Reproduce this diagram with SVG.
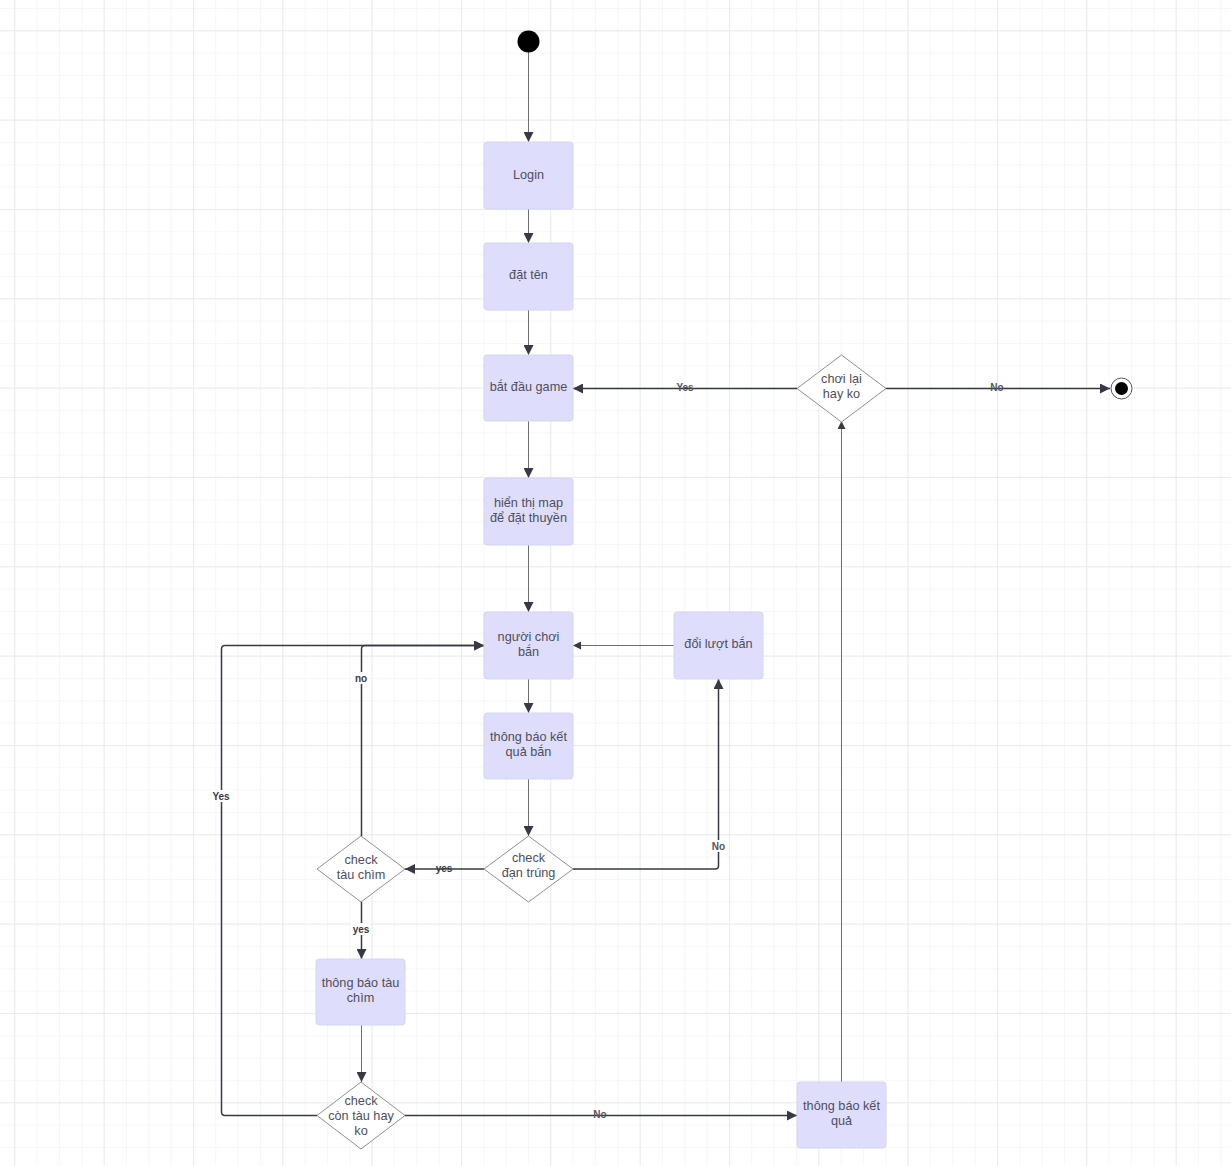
<svg xmlns="http://www.w3.org/2000/svg" width="1231" height="1166" viewBox="0 0 1231 1166">
  <style>
    .box { fill: #dedefc; stroke: #d4d4f4; stroke-width: 1; }
    .dia { fill: #ffffff; stroke: #8f8f8f; stroke-width: 1; }
    .txt { font-family: "Liberation Sans", Arial, sans-serif; font-size: 12.7px; fill: #4e4e5e; text-anchor: middle; }
    .lbl { font-family: "Liberation Sans", Arial, sans-serif; font-size: 10px; font-weight: bold; fill: #3a3a44; text-anchor: middle; }
    .lblg { font-family: "Liberation Sans", Arial, sans-serif; font-size: 10px; font-weight: bold; fill: #55555e; text-anchor: middle; }
    .thin { fill: none; stroke: #6e6e74; stroke-width: 1; }
    .bold { fill: none; stroke: #353a45; stroke-width: 1.5; }
  </style>
  <defs>
    <pattern id="minor" width="22.333" height="22.333" patternUnits="userSpaceOnUse" x="14.3" y="30.3">
      <path d="M 0 0 H 22.333 M 0 0 V 22.333" fill="none" stroke="#efefef" stroke-width="1"/>
    </pattern>
    <pattern id="major" width="89.333" height="89.333" patternUnits="userSpaceOnUse" x="14.3" y="30.3">
      <path d="M 0 0 H 89.333 M 0 0 V 89.333" fill="none" stroke="#dedede" stroke-width="1"/>
    </pattern>
    <marker id="arr" viewBox="0 0 10 10" refX="10" refY="5" markerWidth="10" markerHeight="10" markerUnits="userSpaceOnUse" orient="auto">
      <path d="M 0 0 L 10 5 L 0 10 Z" fill="#353a45"/>
    </marker>
    <marker id="arrs" viewBox="0 0 10 10" refX="10" refY="5" markerWidth="8" markerHeight="8" markerUnits="userSpaceOnUse" orient="auto">
      <path d="M 0 0 L 10 5 L 0 10 Z" fill="#353a45"/>
    </marker>
  </defs>

  <!-- background grid -->
  <rect width="1231" height="1166" fill="#ffffff"/>
  <rect width="1231" height="1166" fill="url(#minor)"/>
  <rect width="1231" height="1166" fill="url(#major)"/>

  <!-- connectors -->
  <g id="connectors">
    <path class="thin" d="M 528.5 52 V 142" marker-end="url(#arr)"/>
    <path class="thin" d="M 528.5 209 V 243" marker-end="url(#arr)"/>
    <path class="thin" d="M 528.5 310 V 355" marker-end="url(#arr)"/>
    <path class="thin" d="M 528.5 421 V 478" marker-end="url(#arr)"/>
    <path class="thin" d="M 528.5 545 V 612" marker-end="url(#arr)"/>
    <path class="thin" d="M 528.5 679 V 713" marker-end="url(#arr)"/>
    <path class="thin" d="M 528.5 779 V 836" marker-end="url(#arr)"/>
    <path class="thin" d="M 361.5 1025 V 1082" marker-end="url(#arr)"/>
    <path class="thin" d="M 841.5 1082 V 421" marker-end="url(#arrs)"/>
    <path class="thin" d="M 674 645.5 H 573" marker-end="url(#arrs)"/>

    <!-- check đạn trúng: yes -->
    <path class="bold" d="M 484 869 H 405" marker-end="url(#arr)"/>
    <text class="lbl" x="444" y="872">yes</text>
    <!-- check đạn trúng: No -->
    <path class="bold" d="M 573 869 H 715 Q 718.5 869 718.5 866 V 679" marker-end="url(#arr)"/>
    <rect x="710" y="840" width="17" height="12" fill="#ffffff"/>
    <text class="lblg" x="718.5" y="850">No</text>
    <!-- check tàu chìm: no -->
    <path class="bold" d="M 361.5 836 V 649 Q 361.5 645.5 365 645.5 H 484" marker-end="url(#arr)"/>
    <rect x="352" y="672" width="18" height="12" fill="#ffffff"/>
    <text class="lbl" x="361" y="682">no</text>
    <!-- check tàu chìm: yes -->
    <path class="bold" d="M 361.5 902 V 959" marker-end="url(#arr)"/>
    <rect x="351" y="923" width="20" height="12" fill="#ffffff"/>
    <text class="lbl" x="361" y="933">yes</text>
    <!-- check còn tàu: Yes -->
    <path class="bold" d="M 317 1115.5 H 225 Q 221.5 1115.5 221.5 1112 V 649 Q 221.5 645.5 225 645.5 H 484" marker-end="url(#arr)"/>
    <rect x="211" y="790" width="21" height="12" fill="#ffffff"/>
    <text class="lbl" x="221" y="800">Yes</text>
    <!-- check còn tàu: No -->
    <path class="bold" d="M 405 1115.5 H 797" marker-end="url(#arr)"/>
    <text class="lblg" x="600" y="1118">No</text>
    <!-- chơi lại: Yes -->
    <path class="bold" d="M 797 388.5 H 573" marker-end="url(#arr)"/>
    <text class="lblg" x="685" y="391">Yes</text>
    <!-- chơi lại: No -->
    <path class="bold" d="M 886 388.5 H 1110" marker-end="url(#arr)"/>
    <text class="lblg" x="997" y="391">No</text>
  </g>

  <!-- nodes -->
  <g id="start"><circle cx="528.5" cy="41.5" r="11" fill="#000000"/></g>
  <g id="login"><rect class="box" x="484" y="142" width="89" height="67" rx="3"/><text class="txt" x="528.5" y="179">Login</text></g>
  <g id="dat-ten"><rect class="box" x="484" y="243" width="89" height="67" rx="3"/><text class="txt" x="528.5" y="279">đặt tên</text></g>
  <g id="bat-dau-game"><rect class="box" x="484" y="355" width="89" height="66" rx="3"/><text class="txt" x="528.5" y="391">bắt đầu game</text></g>
  <g id="hien-thi-map"><rect class="box" x="484" y="478" width="89" height="67" rx="3"/><text class="txt" x="528.5" y="507">hiển thị map</text><text class="txt" x="528.5" y="522">để đặt thuyền</text></g>
  <g id="nguoi-choi-ban"><rect class="box" x="484" y="612" width="89" height="67" rx="3"/><text class="txt" x="528.5" y="641">người chơi</text><text class="txt" x="528.5" y="656">bắn</text></g>
  <g id="thong-bao-ket-qua-ban"><rect class="box" x="484" y="713" width="89" height="66" rx="3"/><text class="txt" x="528.5" y="741">thông báo kết</text><text class="txt" x="528.5" y="756">quả bắn</text></g>
  <g id="check-dan-trung"><path class="dia" d="M 528.5 836 L 573 869 L 528.5 902 L 484 869 Z"/><text class="txt" x="528.5" y="862">check</text><text class="txt" x="528.5" y="877">đạn trúng</text></g>
  <g id="doi-luot-ban"><rect class="box" x="674" y="612" width="89" height="67" rx="3"/><text class="txt" x="718.5" y="648">đổi lượt bắn</text></g>
  <g id="check-tau-chim"><path class="dia" d="M 361 836 L 405 869 L 361 902 L 317 869 Z"/><text class="txt" x="361" y="864">check</text><text class="txt" x="361" y="879">tàu chìm</text></g>
  <g id="thong-bao-tau-chim"><rect class="box" x="316" y="959" width="89" height="66" rx="3"/><text class="txt" x="360.5" y="987">thông báo tàu</text><text class="txt" x="360.5" y="1002">chìm</text></g>
  <g id="check-con-tau"><path class="dia" d="M 361 1082 L 405 1115.5 L 361 1149 L 317 1115.5 Z"/><text class="txt" x="361" y="1105">check</text><text class="txt" x="361" y="1120">còn tàu hay</text><text class="txt" x="361" y="1135">ko</text></g>
  <g id="thong-bao-ket-qua"><rect class="box" x="797" y="1082" width="89" height="66" rx="3"/><text class="txt" x="841.5" y="1110">thông báo kết</text><text class="txt" x="841.5" y="1125">quả</text></g>
  <g id="choi-lai"><path class="dia" d="M 841.5 355 L 886 388.5 L 841.5 422 L 797 388.5 Z"/><text class="txt" x="841.5" y="383">chơi lại</text><text class="txt" x="841.5" y="398">hay ko</text></g>
  <g id="end"><circle cx="1121.5" cy="388.5" r="10.5" fill="#ffffff" stroke="#555555" stroke-width="1"/><circle cx="1121.5" cy="388.5" r="6.5" fill="#000000"/></g>
</svg>
